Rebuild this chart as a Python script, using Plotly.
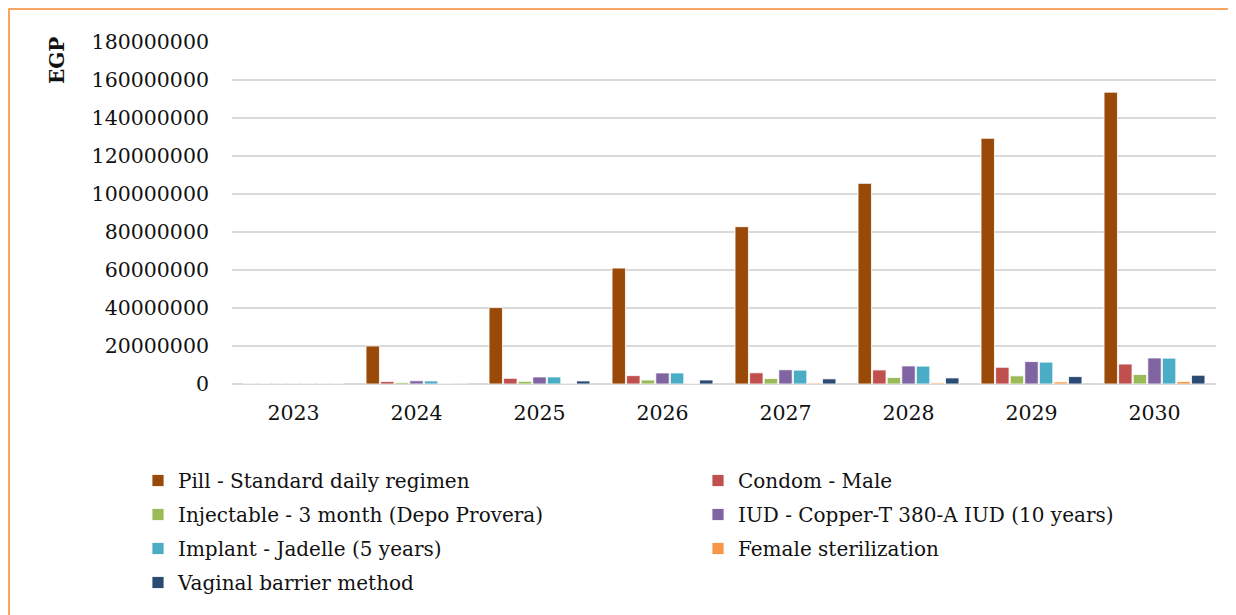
import plotly.graph_objects as go

# years on the x axis
years = ['2023', '2024', '2025', '2026', '2027', '2028', '2029', '2030']

# costs in EGP
pill = [0, 20000000, 40200000, 61000000, 82800000, 105600000, 129300000, 153600000]
condom = [0, 1300000, 3000000, 4400000, 5900000, 7400000, 8800000, 10500000]
injectable = [0, 800000, 1400000, 2100000, 2900000, 3400000, 4300000, 5000000]
iud = [0, 1700000, 3700000, 5800000, 7500000, 9500000, 11800000, 13700000]
implant = [0, 1600000, 3700000, 5800000, 7300000, 9400000, 11500000, 13600000]
female_ster = [0, 0, 0, 200000, 500000, 600000, 1100000, 1300000]
vaginal = [0, 300000, 1600000, 2100000, 2700000, 3200000, 3900000, 4600000]

y_ticks = [0, 20000000, 40000000, 60000000, 80000000, 100000000,
           120000000, 140000000, 160000000, 180000000]

SERIF = 'DejaVu Serif'

# name, values, colour, legend column
series = [
    ('Pill - Standard daily regimen', pill, '#9A4A08', 'legend'),
    ('Condom - Male', condom, '#C0504D', 'legend2'),
    ('Injectable - 3 month (Depo Provera)', injectable, '#9BBB59', 'legend'),
    ('IUD - Copper-T 380-A IUD (10 years)', iud, '#8064A2', 'legend2'),
    ('Implant - Jadelle (5 years)', implant, '#4BACC6', 'legend'),
    ('Female sterilization', female_ster, '#F79646', 'legend2'),
    ('Vaginal barrier method', vaginal, '#2B4B74', 'legend'),
]

fig = go.Figure()
for name, vals, color, leg in series:
    fig.add_trace(go.Bar(
        x=years, y=vals, name=name, legend=leg, legendgroup=name,
        marker=dict(color=color, line=dict(color='white', width=0.8)),
    ))

legend_style = dict(
    orientation='v', traceorder='grouped', tracegroupgap=5,
    xref='container', yref='container', yanchor='top', xanchor='left',
    font=dict(family=SERIF, size=20, color='#111111'),
    bgcolor='rgba(0,0,0,0)',
)

# plot area: left 224, top 34, bottom at 376.5 (page adds 8px body margin)
PL, PT, PB, PW = 224, 34, 376.5, 984
PH = PB - PT

fig.update_layout(
    width=1236, height=615,
    barmode='group', bargap=0.17, bargroupgap=0.08,
    paper_bgcolor='white', plot_bgcolor='white',
    margin=dict(l=PL, r=1236 - PL - PW, t=PT, b=615 - PB, autoexpand=False),
    font=dict(family=SERIF, color='#111111'),
    legend=dict(x=130 / 1236, y=1 - 453 / 615, **legend_style),
    legend2=dict(x=690 / 1236, y=1 - 453 / 615, **legend_style),
    showlegend=True,
)

fig.update_yaxes(
    range=[0, 180000000], tickvals=y_ticks, tickformat='d',
    showgrid=True, gridcolor='#D9D9D9', gridwidth=1.5,
    zeroline=True, zerolinecolor='#D9D9D9', zerolinewidth=1.5,
    showline=False, ticks='', ticklabelstandoff=22,
    tickfont=dict(family=SERIF, size=20.5, color='#111111'),
)
fig.update_xaxes(
    showline=False, ticks='', showgrid=False, tickangle=0,
    ticklabelstandoff=14,
    tickfont=dict(family=SERIF, size=20.5, color='#111111'),
)

# rotated axis title sits near the top, like the original
fig.add_annotation(
    text='<b>EGP</b>', textangle=-90, showarrow=False,
    xanchor='center', yanchor='middle',
    xref='paper', yref='paper', x=(49 - PL) / PW, y=(PB - 53) / PH,
    font=dict(family=SERIF, size=20, color='#111111'),
)

# orange frame around the chart area
fig.add_shape(type='rect', xref='paper', yref='paper',
              x0=(1 - PL) / PW, x1=(1227 - PL) / PW,
              y0=(PB - 660) / PH, y1=(PB - 1) / PH,
              line=dict(color='#F58A2E', width=1.5), layer='below')

fig.write_html('out.html')
